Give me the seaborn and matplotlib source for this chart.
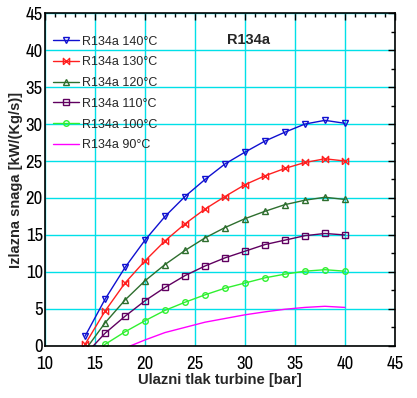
#Import Libraries
import numpy as np
import pandas as pd
import matplotlib
matplotlib.use("Agg")
import matplotlib.pyplot as plt
from matplotlib.ticker import MultipleLocator
from matplotlib import font_manager
import seaborn as sns

#Data
pressure = [14, 16, 18, 20, 22, 24, 26, 28, 30, 32, 34, 36, 38, 40]
power_140 = [1.3, 6.3, 10.6, 14.3, 17.5, 20.2, 22.5, 24.6, 26.2, 27.7, 28.9, 30.0, 30.5, 30.1]
power_130 = [0.2, 4.7, 8.5, 11.5, 14.2, 16.5, 18.5, 20.2, 21.8, 23.0, 24.0, 24.8, 25.3, 25.0]
power_120 = [-0.6, 3.1, 6.2, 8.8, 11.0, 12.9, 14.6, 16.0, 17.2, 18.2, 19.1, 19.7, 20.1, 19.8]
power_110 = [-1.2, 1.7, 4.0, 6.1, 7.9, 9.5, 10.8, 11.9, 12.8, 13.7, 14.3, 14.9, 15.2, 15.0]
power_100 = [-2.2, 0.2, 1.9, 3.4, 4.8, 5.9, 6.9, 7.8, 8.5, 9.2, 9.7, 10.1, 10.3, 10.1]
pressure_90 = [18, 20, 22, 24, 26, 28, 30, 32, 34, 36, 38, 40]
power_90 = [-0.3, 0.8, 1.8, 2.5, 3.2, 3.7, 4.2, 4.6, 4.95, 5.2, 5.35, 5.2]

labels = ["R134a 140°C", "R134a 130°C", "R134a 120°C",
          "R134a 110°C", "R134a 100°C", "R134a 90°C"]

#Styles
bowtie = [(-1, -1), (1, 1), (1, -1), (-1, 1), (-1, -1)]
series = [
    (pressure, power_140, labels[0], "#1010D0", "v", 5),
    (pressure, power_130, labels[1], "#FF2020", bowtie, 4.5),
    (pressure, power_120, labels[2], "#2E6E2E", "^", 5),
    (pressure, power_110, labels[3], "#600060", "s", 5),
    (pressure, power_100, labels[4], "#30F030", "o", 4),
    (pressure_90, power_90, labels[5], "#FF00FF", None, 0),
]

sns.set_style("white")
plt.rcParams['font.family'] = ['Liberation Sans', 'DejaVu Sans']

#regular condensed font for the tick numbers, if one is installed
condensed = [f for f in font_manager.fontManager.ttflist
             if ("Condensed" in f.fname or "Narrow" in f.fname)
             and f.weight in (400, "normal", "regular") and f.style == "normal"]
condensed.sort(key=lambda f: ("Narrow" not in f.fname, f.fname))

fig = plt.figure(figsize=(4.17, 3.98), dpi=100)
ax = fig.add_axes([0.108, 0.131, 0.839, 0.836])

for xs, ys, lab, col, mk, ms in series:
    df = pd.DataFrame({"p": xs, "w": ys})
    sns.lineplot(data=df, x="p", y="w", ax=ax, color=col, label=lab,
                 marker=mk, markersize=ms, markerfacecolor="none",
                 markeredgecolor=col, markeredgewidth=1.0, linewidth=1.0)

ax.set_xlim(10, 45)
ax.set_ylim(0, 45)
ax.xaxis.set_major_locator(MultipleLocator(5))
ax.xaxis.set_minor_locator(MultipleLocator(1))
ax.yaxis.set_major_locator(MultipleLocator(5))
ax.yaxis.set_minor_locator(MultipleLocator(2.5))
ax.grid(True, which="major", color="#00E0E8", linewidth=1.0)
ax.set_axisbelow(True)
ax.tick_params(which="both", direction="in", top=True, right=True, colors="black")
ax.tick_params(which="major", length=5, width=1)
ax.tick_params(which="minor", length=3, width=1)
ax.tick_params(axis="x", which="major", pad=7)
ax.tick_params(axis="y", which="major", pad=1.5)
for lab in ax.get_xticklabels() + ax.get_yticklabels():
    if condensed:
        lab.set_fontproperties(font_manager.FontProperties(fname=condensed[0].fname, size=13.5))
    else:
        lab.set_fontsize(12)
for sp in ax.spines.values():
    sp.set_color("black")
    sp.set_linewidth(1.2)

ax.set_xlabel("Ulazni tlak turbine [bar]", fontsize=10.7, fontweight="bold", labelpad=1)
ax.set_ylabel("Izlazna snaga [kW/(Kg/s)]", fontsize=10.5, fontweight="bold", labelpad=2)
ax.text(30.4, 41.3, "R134a", fontsize=10.5, fontweight="bold", ha="center", va="center")

leg = ax.legend(loc="upper left", frameon=False, fontsize=9, handlelength=2.1,
                handletextpad=0.25, labelspacing=0.7, borderaxespad=0.2,
                bbox_to_anchor=(0.0, 0.955))

plt.savefig("out.png", dpi=100)
print("Saved out.png")
